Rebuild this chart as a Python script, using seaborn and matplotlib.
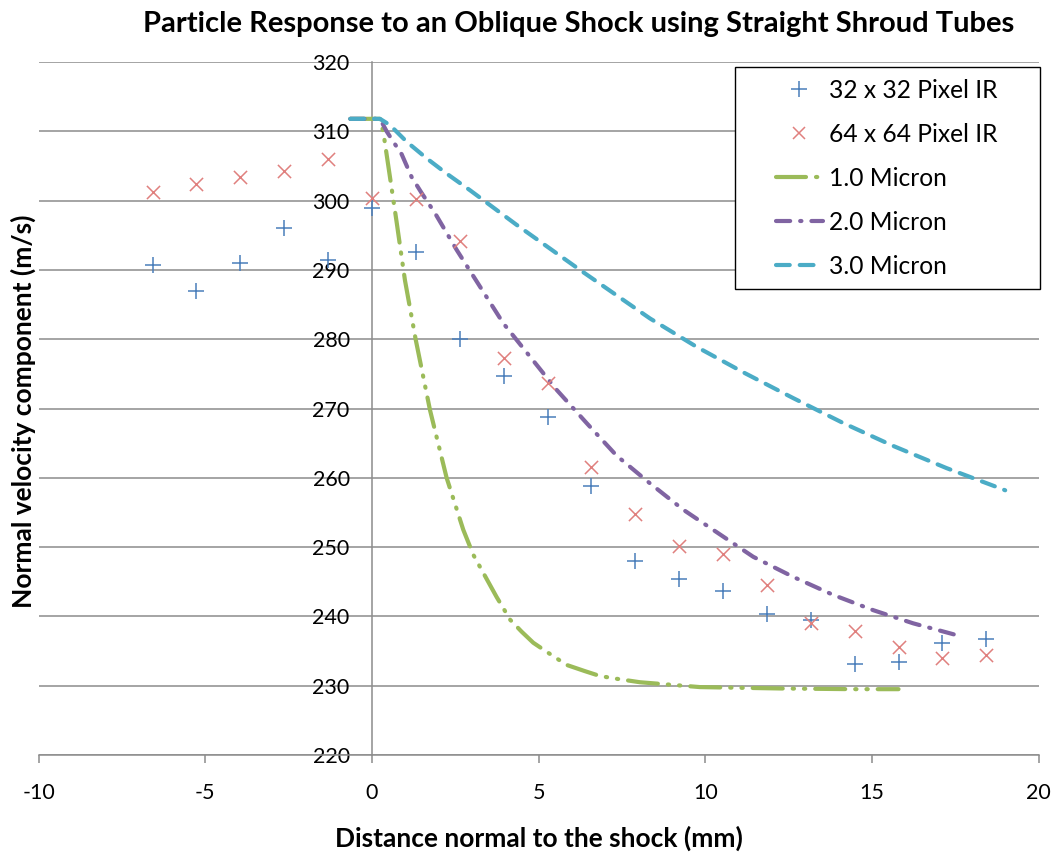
import numpy as np
import pandas as pd
import matplotlib
matplotlib.use("Agg")
import matplotlib.pyplot as plt
from matplotlib.patches import Rectangle
import seaborn as sns

# Measured particle velocities (IR camera, two resolutions)
x_scan = [-6.58, -5.27, -3.95, -2.63, -1.32, 0.00, 1.32, 2.63, 3.95, 5.27,
          6.58, 7.90, 9.21, 10.53, 11.85, 13.16, 14.48, 15.80, 17.11, 18.43]
ir32 = [290.7, 287.0, 291.0, 296.1, 291.4, 298.9, 292.6, 280.0, 274.7, 268.8,
        258.8, 248.0, 245.4, 243.7, 240.4, 239.5, 233.2, 233.4, 236.1, 236.7]
ir64 = [301.3, 302.4, 303.4, 304.3, 306.0, 300.4, 300.2, 294.2, 277.3, 273.7,
        261.6, 254.8, 250.1, 249.0, 244.5, 239.1, 237.9, 235.6, 234.0, 234.5]

# Predicted response for three particle diameters
m1_x = [-0.65, 0.24, 0.34, 0.54, 0.74, 0.99, 1.19, 1.31, 1.74, 2.24, 2.74, 3.04,
        3.74, 4.15, 4.49, 4.84, 5.24, 5.84, 6.39, 6.84, 7.34, 8.04, 9.84, 12.24,
        14.43, 15.80]
m1_y = [311.8, 311.8, 309.9, 303.4, 296.9, 288.5, 283.2, 280.0, 269.8, 260.0,
        252.5, 248.9, 242.8, 239.5, 237.8, 236.2, 234.9, 233.0, 232.1, 231.4,
        231.0, 230.5, 229.8, 229.6, 229.5, 229.5]

m2_x = [-0.65, 0.24, 0.44, 0.64, 0.89, 1.19, 1.49, 1.89, 2.54, 3.24, 3.94, 4.74,
        5.54, 6.44, 7.34, 8.29, 9.34, 10.39, 11.44, 12.64, 13.84, 15.04, 16.24,
        17.54, 17.74]
m2_y = [311.8, 311.8, 310.0, 308.5, 306.7, 303.4, 301.1, 298.2, 292.9, 287.6,
        282.3, 277.5, 272.7, 267.9, 263.2, 259.4, 255.4, 252.0, 248.6, 245.7,
        243.1, 240.9, 239.0, 237.3, 237.2]

m3_x = [-0.65, 0.24, 0.54, 1.04, 1.64, 2.24, 2.94, 4.34, 6.24, 8.34, 9.74, 11.19,
        12.64, 14.14, 15.64, 16.44, 17.24, 18.84, 19.00]
m3_y = [311.8, 311.8, 310.9, 308.5, 306.1, 303.9, 301.5, 296.5, 290.0, 283.0,
        278.9, 275.1, 271.5, 267.9, 264.6, 263.0, 261.4, 258.5, 258.2]

labels = ["32 x 32 Pixel IR", "64 x 64 Pixel IR", "1.0 Micron", "2.0 Micron", "3.0 Micron"]
x_ticks = [-10, -5, 0, 5, 10, 15, 20]
y_ticks = [220, 230, 240, 250, 260, 270, 280, 290, 300, 310, 320]

sns.set_theme(style="white")
plt.rcParams["font.family"] = ["Lato", "DejaVu Sans"]
plt.rcParams["text.color"] = "black"

W, H = 1057, 857
fig = plt.figure(figsize=(W / 100, H / 100), dpi=100)
fig.patch.set_facecolor("white")
ax = fig.add_axes([38.7 / W, 1 - 755 / H, (1038.5 - 38.7) / W, (755 - 62) / H])

grid_c = "#8c8c8c"
c32, c64 = "#4a7ebb", "#e0807e"
c1, c2, c3 = "#9bbb59", "#8064a2", "#4bacc6"
lw = 3.0
dash1 = (7.2, 2.4, 0.3, 2.4, 0.3, 2.4)
dash2 = (3.4, 2.4, 0.3, 2.4)
dash3 = (3.3, 2.4)

# Model curves
for xs, ys, col, dash in [(m1_x, m1_y, c1, dash1), (m2_x, m2_y, c2, dash2),
                          (m3_x, m3_y, c3, dash3)]:
    sns.lineplot(x=xs, y=ys, ax=ax, color=col, linewidth=lw, sort=False,
                 estimator=None, zorder=3)
    ln = ax.lines[-1]
    ln.set_dashes(dash)
    ln.set_dash_capstyle("round")

# Measurements
sns.scatterplot(x=x_scan, y=ir32, ax=ax, marker="+", s=120, color=c32,
                linewidth=1.1, zorder=4)
sns.scatterplot(x=x_scan, y=ir64, ax=ax, marker="x", s=90, color=c64,
                linewidth=1.1, zorder=4)

ax.set_xlim(-10, 20)
ax.set_ylim(220, 320)
ax.set_xticks(x_ticks)
ax.set_yticks(y_ticks)
ax.set_xticklabels([str(v) for v in x_ticks])
ax.set_yticklabels([str(v) for v in y_ticks])

ax.grid(axis="y", color=grid_c, linewidth=1.1)
ax.grid(axis="x", visible=False)
ax.set_axisbelow(True)

for s in ["top", "right"]:
    ax.spines[s].set_visible(False)
ax.spines["left"].set_position(("data", 0))
ax.spines["left"].set_color(grid_c)
ax.spines["left"].set_linewidth(1.1)
ax.spines["bottom"].set_color(grid_c)
ax.spines["bottom"].set_linewidth(1.1)

ax.tick_params(axis="x", direction="out", length=6, width=1.1, color=grid_c,
               pad=14, labelsize=15.5, labelcolor="black", bottom=True)
ax.tick_params(axis="y", length=0, pad=16, labelsize=15.5, labelcolor="black")
ax.set_xlabel("")
ax.set_ylabel("")

# Legend with a box drawn separately so its padding can be set freely
box = Rectangle((735 / W, 1 - 289 / H), 305 / W, 222 / H, transform=fig.transFigure,
                facecolor="white", edgecolor="black", linewidth=1.0, zorder=4.5,
                clip_on=False)
ax.add_patch(box)
proxies = [
    plt.Line2D([], [], linestyle="none", marker="+", markersize=11,
               markeredgewidth=1.1, color=c32),
    plt.Line2D([], [], linestyle="none", marker="x", markersize=9,
               markeredgewidth=1.1, color=c64),
]
for col, dash in [(c1, dash1), (c2, dash2), (c3, dash3)]:
    p = plt.Line2D([], [], color=col, linewidth=lw)
    p.set_dashes(dash)
    p.set_dash_capstyle("round")
    proxies.append(p)
leg = ax.legend(proxies, labels, loc="upper left",
                bbox_to_anchor=(776 / W, 1 - 79 / H), bbox_transform=fig.transFigure,
                frameon=False, borderpad=0, borderaxespad=0, handlelength=1.9,
                handletextpad=0.25, labelspacing=0.85, fontsize=17.7,
                labelcolor="black")
leg.set_zorder(5)

fig.text(579 / W, 1 - 32 / H,
         "Particle Response to an Oblique Shock using Straight Shroud Tubes",
         ha="center", va="baseline", fontsize=21, fontweight="bold", color="black")
fig.text(539 / W, 1 - 847 / H, "Distance normal to the shock (mm)",
         ha="center", va="baseline", fontsize=19, fontweight="bold", color="black")
fig.text(23 / W, 1 - 411 / H, "Normal velocity component (m/s)",
         ha="center", va="center", rotation=90, fontsize=19, fontweight="bold",
         color="black")

fig.savefig("out.png", dpi=100, facecolor="white")
